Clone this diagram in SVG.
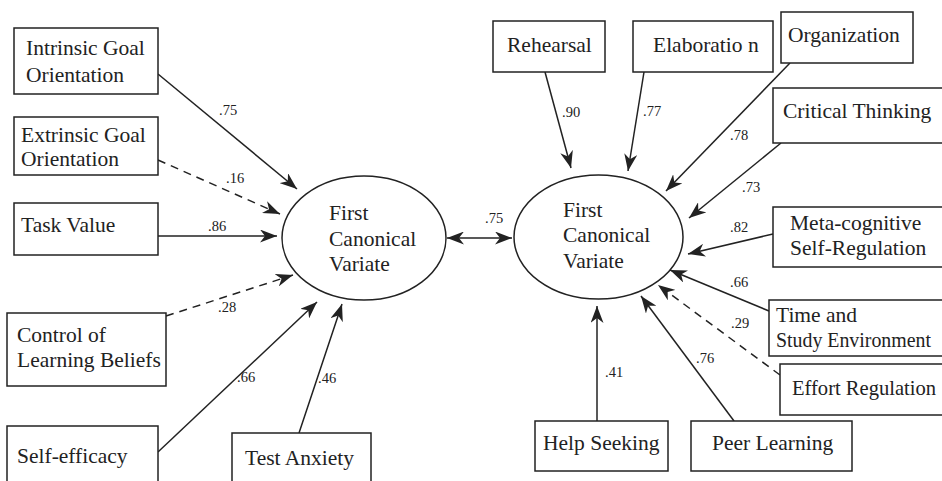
<svg xmlns="http://www.w3.org/2000/svg" width="942" height="481" viewBox="0 0 942 481">
<style>
.box{fill:#fff;stroke:#222;stroke-width:1.5}
.ell{fill:#fff;stroke:#222;stroke-width:1.5}
.t{font-family:"Liberation Serif","Times New Roman",serif;font-size:21.5px;fill:#222}
.l{font-family:"Liberation Serif","Times New Roman",serif;font-size:14.5px;fill:#222}
.c{fill:none;stroke:#222;stroke-width:1.5}
.a{marker-end:url(#ah)}
.d{stroke-dasharray:8,6}
</style>
<defs>
<marker id="ah" viewBox="0 0 17 13" refX="17" refY="6.5" markerWidth="17" markerHeight="13" markerUnits="userSpaceOnUse" orient="auto-start-reverse">
<path d="M0,0 L17,6.5 L0,13 L5,6.5 Z" fill="#222"/>
</marker>
</defs>
<rect width="942" height="481" fill="#fff"/>
<g id="connectors">
<line class="c a" x1="158" y1="74" x2="297" y2="189"/>
<line class="c a d" x1="158" y1="160" x2="280" y2="214"/>
<line class="c a" x1="158" y1="236" x2="277" y2="236"/>
<line class="c a d" x1="166" y1="316" x2="293" y2="275"/>
<line class="c a" x1="158" y1="452" x2="317" y2="302"/>
<line class="c a" x1="299" y1="433" x2="342" y2="304"/>
<line class="c" x1="447" y1="238" x2="512" y2="238" marker-start="url(#ah)" marker-end="url(#ah)"/>
<line class="c a" x1="545" y1="72" x2="571" y2="168"/>
<line class="c a" x1="644" y1="72" x2="628" y2="171"/>
<line class="c a" x1="790" y1="63" x2="666" y2="191"/>
<line class="c a" x1="781" y1="143" x2="689" y2="218"/>
<line class="c a" x1="773" y1="234" x2="688" y2="254"/>
<line class="c a" x1="769" y1="311" x2="670" y2="270"/>
<line class="c a d" x1="780" y1="375" x2="658" y2="285"/>
<line class="c a" x1="597" y1="421" x2="597" y2="306"/>
<line class="c a" x1="734" y1="421" x2="641" y2="296"/>
<text class="l" x="219" y="115">.75</text>
<text class="l" x="226" y="183">.16</text>
<text class="l" x="208" y="231">.86</text>
<text class="l" x="218" y="312">.28</text>
<text class="l" x="237" y="382">.66</text>
<text class="l" x="318" y="383">.46</text>
<text class="l" x="485" y="223">.75</text>
<text class="l" x="562" y="117">.90</text>
<text class="l" x="643" y="116">.77</text>
<text class="l" x="730" y="140">.78</text>
<text class="l" x="742" y="192">.73</text>
<text class="l" x="730" y="232">.82</text>
<text class="l" x="730" y="287">.66</text>
<text class="l" x="731" y="328">.29</text>
<text class="l" x="605" y="377">.41</text>
<text class="l" x="696" y="363">.76</text>
</g>
<g id="intrinsic">
<rect class="box" x="14" y="28" width="144" height="66"/>
<text class="t" x="26" y="55">Intrinsic Goal</text>
<text class="t" x="26" y="82">Orientation</text>
</g>
<g id="extrinsic">
<rect class="box" x="14" y="117" width="144" height="58"/>
<text class="t" x="21" y="142">Extrinsic Goal</text>
<text class="t" x="21" y="166">Orientation</text>
</g>
<g id="taskvalue">
<rect class="box" x="14" y="203" width="144" height="52"/>
<text class="t" x="21" y="232">Task Value</text>
</g>
<g id="control">
<rect class="box" x="7" y="313" width="159" height="73"/>
<text class="t" x="17" y="342">Control of</text>
<text class="t" x="17" y="367">Learning Beliefs</text>
</g>
<g id="selfefficacy">
<rect class="box" x="7" y="426" width="151" height="70"/>
<text class="t" x="17" y="463">Self-efficacy</text>
</g>
<g id="testanxiety">
<rect class="box" x="232" y="433" width="139" height="60"/>
<text class="t" x="245" y="465">Test Anxiety</text>
</g>
<g id="cv1">
<ellipse class="ell" cx="364" cy="238" rx="82" ry="62"/>
<text class="t" x="329" y="220">First</text>
<text class="t" x="329" y="246">Canonical</text>
<text class="t" x="329" y="271">Variate</text>
</g>
<g id="cv2">
<ellipse class="ell" cx="598.5" cy="237" rx="84.5" ry="62"/>
<text class="t" x="563" y="217">First</text>
<text class="t" x="563" y="242">Canonical</text>
<text class="t" x="563" y="268">Variate</text>
</g>
<g id="rehearsal">
<rect class="box" x="493" y="21" width="112" height="51"/>
<text class="t" x="507" y="52">Rehearsal</text>
</g>
<g id="elaboration">
<rect class="box" x="633" y="21" width="140" height="51"/>
<text class="t" x="653" y="52">Elaboratio n</text>
</g>
<g id="organization">
<rect class="box" x="781" y="12" width="132" height="51"/>
<text class="t" x="788" y="42">Organization</text>
</g>
<g id="critical">
<rect class="box" x="773" y="88" width="180" height="55"/>
<text class="t" x="783" y="118">Critical Thinking</text>
</g>
<g id="metacognitive">
<rect class="box" x="773" y="207" width="180" height="60"/>
<text class="t" x="790" y="230">Meta-cognitive</text>
<text class="t" x="790" y="255">Self-Regulation</text>
</g>
<g id="timestudy">
<rect class="box" x="769" y="300" width="184" height="56"/>
<text class="t" x="776" y="322">Time and</text>
<text class="t" x="776" y="347" textLength="155" lengthAdjust="spacingAndGlyphs">Study Environment</text>
</g>
<g id="effort">
<rect class="box" x="780" y="364" width="173" height="51"/>
<text class="t" x="792" y="395" textLength="144" lengthAdjust="spacingAndGlyphs">Effort Regulation</text>
</g>
<g id="helpseeking">
<rect class="box" x="535" y="421" width="133" height="50"/>
<text class="t" x="543" y="450">Help Seeking</text>
</g>
<g id="peerlearning">
<rect class="box" x="691" y="421" width="161" height="50"/>
<text class="t" x="712" y="450">Peer Learning</text>
</g>
</svg>
